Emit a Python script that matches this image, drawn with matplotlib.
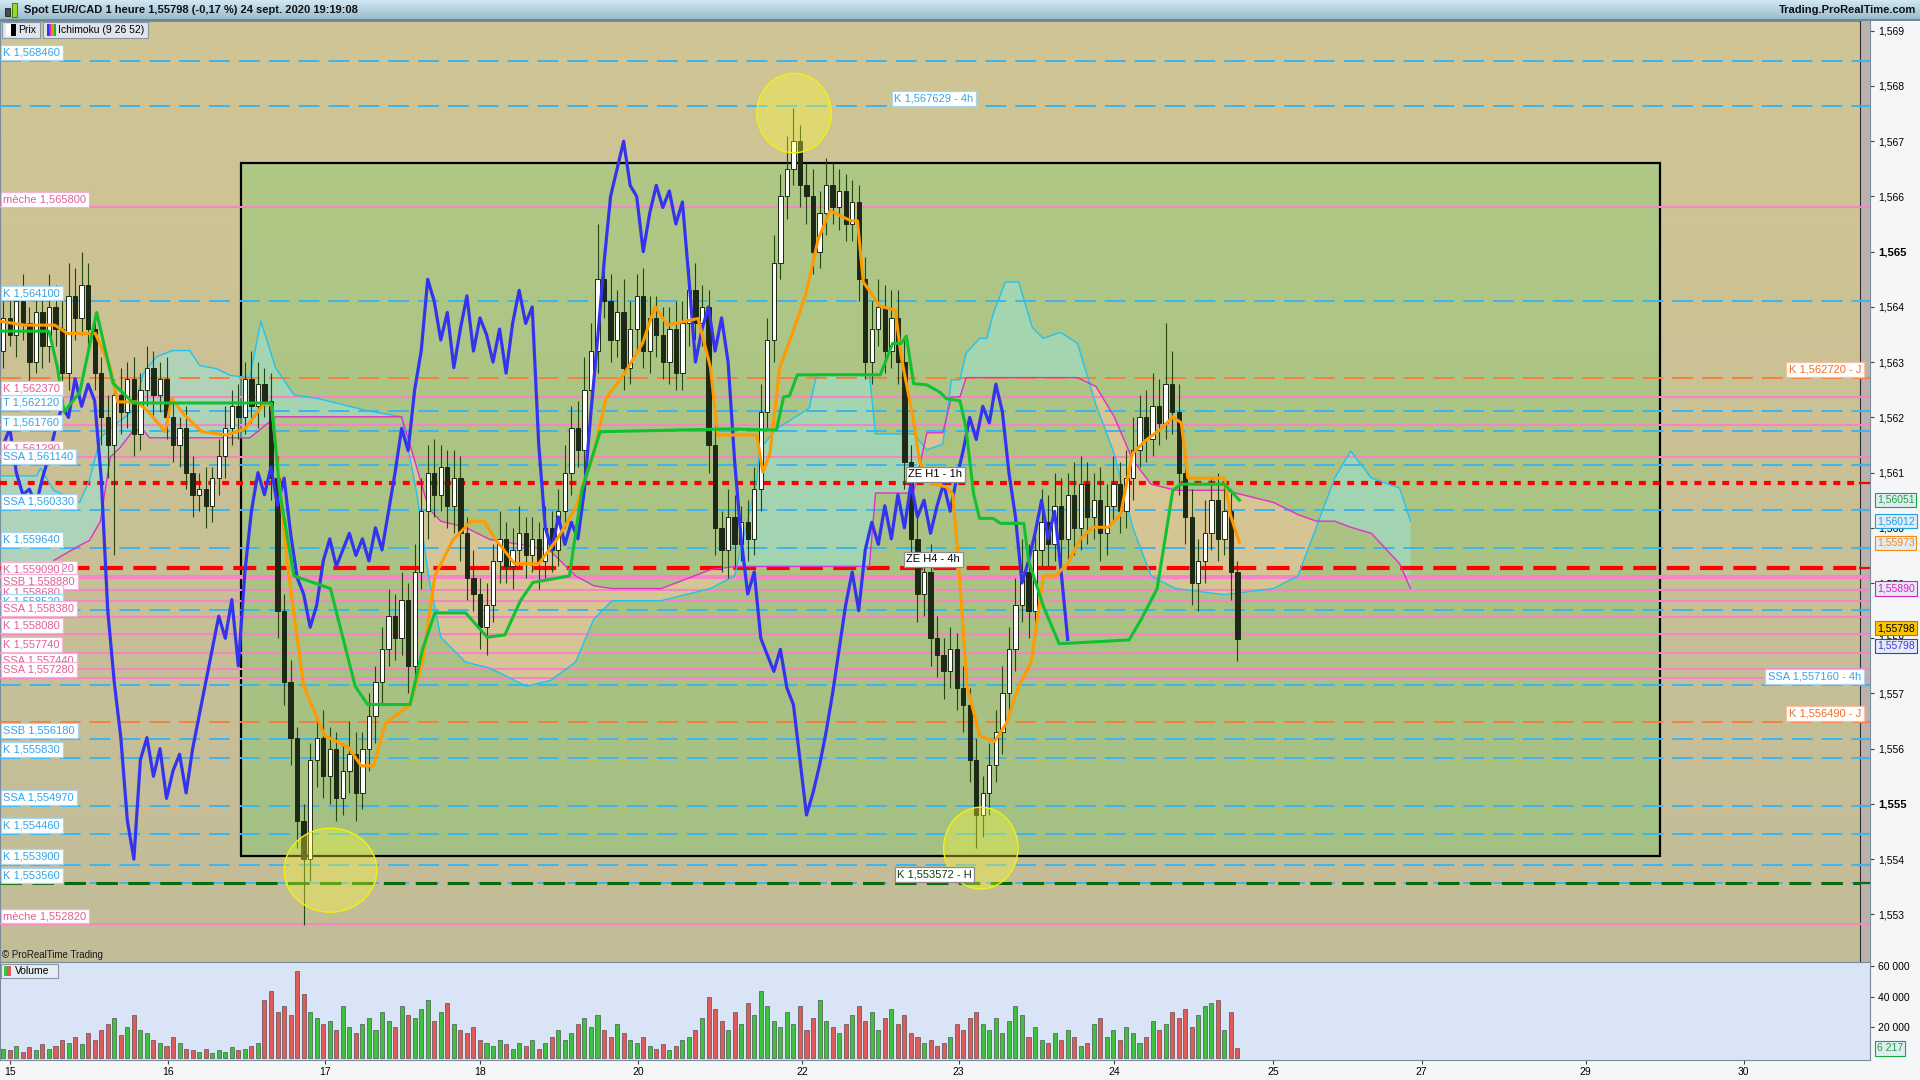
import matplotlib
matplotlib.use('Agg')
import matplotlib.pyplot as plt
import matplotlib.transforms as mtransforms
from matplotlib.patches import Rectangle, Ellipse
from matplotlib.colors import LinearSegmentedColormap
import numpy as np

plt.rcParams['font.family'] = ['Liberation Sans', 'DejaVu Sans']
plt.rcParams['lines.scale_dashes'] = False

# ---------------- data ----------------
open0 = 1.5632
close = [
    1.5638, 1.5635, 1.5641, 1.5637, 1.5630, 1.5639, 1.5633, 1.5640, 1.5636, 1.5628,
    1.5642, 1.5638, 1.5644, 1.5636, 1.5628, 1.5620, 1.5615, 1.5624, 1.5621, 1.5627,
    1.5617, 1.5625, 1.5629, 1.5624, 1.5627, 1.5620, 1.5615, 1.5618, 1.5610, 1.5606,
    1.5607, 1.5604, 1.5609, 1.5613, 1.5618, 1.5622, 1.5620, 1.5627, 1.5622, 1.5626,
    1.5623, 1.5609, 1.5585, 1.5572, 1.5562, 1.5547, 1.5540, 1.5558, 1.5562, 1.5555,
    1.5560, 1.5551, 1.5556, 1.5559, 1.5552, 1.5560, 1.5566, 1.5572, 1.5578, 1.5584,
    1.5580, 1.5587, 1.5575, 1.5592, 1.5603, 1.5610, 1.5606, 1.5611, 1.5604, 1.5609,
    1.5599, 1.5591, 1.5588, 1.5582, 1.5586, 1.5594, 1.5598, 1.5593, 1.5596, 1.5599,
    1.5595, 1.5598, 1.5594, 1.5600, 1.5596, 1.5603, 1.5610, 1.5618, 1.5614, 1.5625,
    1.5632, 1.5645, 1.5641, 1.5634, 1.5639, 1.5629, 1.5636, 1.5642, 1.5632, 1.5638,
    1.5635, 1.5630, 1.5636, 1.5628, 1.5637, 1.5643, 1.5637, 1.5640, 1.5615, 1.5600,
    1.5596, 1.5602, 1.5597, 1.5601, 1.5598, 1.5607, 1.5621, 1.5634, 1.5648, 1.5660,
    1.5665, 1.5670, 1.5662, 1.5660, 1.5650, 1.5657, 1.5662, 1.5658, 1.5661, 1.5655,
    1.5659, 1.5645, 1.5630, 1.5636, 1.5640, 1.5632, 1.5638, 1.5630, 1.5612, 1.5598,
    1.5588, 1.5592, 1.5580, 1.5577, 1.5574, 1.5578, 1.5571, 1.5568, 1.5558, 1.5548,
    1.5552, 1.5557, 1.5563, 1.5570, 1.5578, 1.5586, 1.5592, 1.5585, 1.5596, 1.5601,
    1.5597, 1.5604, 1.5598, 1.5606, 1.5600, 1.5608, 1.5602, 1.5605, 1.5599, 1.5604,
    1.5608, 1.5603, 1.5609, 1.5614, 1.5620, 1.5616, 1.5622, 1.5619, 1.5626, 1.5621,
    1.5610, 1.5602, 1.5590, 1.5594, 1.5599, 1.5605, 1.5598, 1.5603, 1.5592, 1.55798,
]
# wick lengths above / below the body, in pips
wick_up = [
    3, 4, 2, 5, 3, 4, 3, 6, 4, 5,   6, 5, 6, 4, 3, 3, 4, 3, 5, 3,
    4, 3, 4, 3, 3, 4, 3, 2, 4, 3,   3, 4, 2, 3, 4, 3, 4, 3, 5, 4,
    3, 5, 4, 3, 4, 2, 3, 3, 4, 5,   4, 3, 5, 6, 4, 3, 4, 3, 4, 5,
    4, 5, 3, 5, 6, 5, 6, 4, 3, 5,   4, 3, 5, 3, 4, 3, 5, 3, 4, 5,
    3, 4, 3, 4, 3, 4, 5, 4, 5, 6,   5, 10, 4, 5, 4, 6, 5, 4, 5, 4,
    4, 5, 4, 5, 4, 4, 5, 4, 3, 4,   3, 5, 4, 3, 4, 4, 5, 4, 5, 4,
    6, 6, 3, 4, 5, 4, 5, 4, 4, 3,   4, 3, 4, 5, 5, 4, 5, 5, 4, 3,
    4, 3, 5, 4, 3, 4, 3, 4, 3, 4,   3, 4, 4, 5, 4, 5, 6, 5, 4, 6,
    5, 6, 5, 4, 6, 5, 4, 5, 6, 4,   5, 4, 5, 6, 4, 5, 6, 5, 11, 6,
    5, 4, 5, 4, 6, 4, 5, 5, 4, 2,
]
wick_dn = [
    3, 2, 4, 3, 5, 2, 4, 3, 3, 4,   3, 4, 3, 4, 3, 5, 6, 20, 4, 3,
    4, 3, 3, 4, 3, 4, 3, 4, 3, 4,   3, 4, 3, 3, 4, 3, 4, 3, 3, 4,
    3, 4, 5, 4, 5, 5, 12, 4, 5, 4,  5, 4, 3, 4, 5, 3, 4, 5, 4, 3,
    4, 3, 5, 4, 3, 5, 4, 3, 4, 5,   5, 4, 3, 4, 5, 3, 4, 3, 4, 3,
    4, 3, 5, 3, 4, 3, 3, 4, 3, 4,   3, 4, 3, 4, 3, 4, 3, 4, 3, 4,
    4, 3, 4, 3, 3, 4, 3, 4, 5, 5,   4, 5, 4, 3, 4, 3, 4, 3, 4, 3,
    4, 3, 4, 5, 4, 3, 4, 3, 4, 3,   3, 4, 3, 4, 3, 4, 3, 4, 5, 4,
    5, 4, 5, 4, 5, 3, 4, 5, 4, 6,   4, 4, 3, 4, 3, 4, 3, 5, 4, 3,
    4, 3, 5, 4, 5, 4, 5, 4, 5, 4,   3, 4, 3, 4, 3, 4, 3, 4, 3, 4,
    4, 5, 4, 5, 4, 3, 4, 3, 5, 4,
]
# volume in thousands
volume_k = [
    6, 5, 8, 4, 7, 5, 9, 6, 8, 12,      10, 14, 9, 16, 12, 18, 22, 26, 15, 20,
    28, 18, 16, 12, 10, 8, 14, 10, 6, 5, 4, 6, 3, 5, 4, 7, 5, 6, 8, 10,
    38, 44, 30, 34, 28, 57, 42, 30, 26, 22,  24, 18, 34, 20, 16, 22, 26, 18, 30, 24,
    20, 34, 28, 26, 32, 38, 24, 30, 36, 22,  18, 16, 20, 12, 10, 8, 12, 9, 6, 10,
    8, 12, 6, 10, 14, 18, 12, 16, 22, 26,    20, 28, 18, 14, 22, 16, 12, 10, 14, 8,
    6, 9, 5, 8, 12, 14, 18, 26, 40, 32,      24, 18, 30, 22, 36, 28, 44, 34, 24, 20,
    30, 22, 34, 18, 26, 38, 24, 20, 16, 22,  28, 34, 24, 30, 18, 26, 32, 22, 28, 16,
    14, 10, 12, 8, 10, 14, 22, 18, 26, 30,   22, 18, 26, 16, 24, 34, 28, 14, 20, 12,
    10, 16, 12, 18, 14, 8, 10, 22, 26, 14,   18, 12, 20, 16, 10, 14, 24, 18, 22, 30,
    26, 32, 20, 28, 34, 36, 38, 18, 30, 6.217,
]

tenkan_x = [0, 3.75, 8.4, 10.3, 14.6, 16.9, 18.0, 21.0, 22.9, 25.3, 26.3, 28.1, 30.9, 34.7, 37.5,
            40.3, 41.6, 44.0, 46.5, 49.7, 53.4, 55.3, 57.2, 59.0, 62.8, 64.7, 66.6, 69.4, 72.2, 74.1,
            75.9, 78.8, 82.5, 85.3, 88.1, 90.9, 92.8, 95.6, 98.4, 100.3, 102.2, 106.9, 108.8, 109.9,
            115.9, 116.8, 117.9, 119.4, 121.5, 123.4, 125.3, 127.1, 130.3, 131.3, 132.2, 134.8, 137.1,
            138.0, 139.9, 140.8, 142.5, 144.9, 145.9, 146.6, 148.1, 150.0, 152.3, 154.1, 156.0, 157.9,
            159.8, 161.6, 163.5, 165.4, 167.3, 169.7, 171.6, 173.4, 175.3, 177.8, 179.6, 180.9, 181.9,
            187.5, 188.4, 189.8]
tenkan_y = [1.56374, 1.56367, 1.56367, 1.56352, 1.56352, 1.56290, 1.56228, 1.56228, 1.56208, 1.56174,
            1.56234, 1.56206, 1.56174, 1.56168, 1.56179, 1.56223, 1.56223, 1.55935, 1.55713, 1.55624,
            1.55602, 1.55569, 1.55569, 1.55646, 1.55680, 1.55757, 1.55913, 1.55979, 1.56012, 1.56012,
            1.55979, 1.55935, 1.55935, 1.55979, 1.56035, 1.56134, 1.56234, 1.56279, 1.56334, 1.56401,
            1.56367, 1.56379, 1.56290, 1.56168, 1.56168, 1.56101, 1.56134, 1.56290, 1.56357, 1.56423,
            1.56523, 1.56574, 1.56556, 1.56556, 1.56445, 1.56401, 1.56394, 1.56310, 1.56194, 1.56121,
            1.56081, 1.56074, 1.56061, 1.55964, 1.55713, 1.55624, 1.55613, 1.55646, 1.55713, 1.55757,
            1.55913, 1.55913, 1.55935, 1.55979, 1.56001, 1.56001, 1.56024, 1.56134, 1.56157, 1.56179,
            1.56201, 1.56190, 1.56090, 1.56090, 1.56024, 1.55973]

kijun_x = [0, 7.5, 8.8, 9.8, 12.2, 14.8, 17.3, 20.4, 41.6, 42.8, 45.0, 50.6, 54.4, 56.3, 62.8,
           64.7, 66.6, 71.3, 74.6, 77.3, 79.7, 81.6, 87.2, 89.1, 91.9, 111.6, 118.9, 120.0, 120.9,
           122.1, 134.8, 136.7, 138.0, 138.8, 139.9, 141.9, 144.0, 144.9, 147.0, 147.9, 149.1, 150.0,
           152.1, 153.2, 156.8, 157.5, 159.8, 162.2, 172.9, 174.8, 177.2, 179.6, 180.9, 187.5, 189.8]
kijun_y = [1.56356, 1.56356, 1.56290, 1.56210, 1.56245, 1.56390, 1.56262, 1.56226, 1.56226, 1.56068,
           1.55913, 1.55890, 1.55713, 1.55680, 1.55680, 1.55780, 1.55846, 1.55846, 1.55802, 1.55806,
           1.55868, 1.55901, 1.55913, 1.56068, 1.56174, 1.56179, 1.56177, 1.56237, 1.56239, 1.56277,
           1.56277, 1.56334, 1.56334, 1.56347, 1.56261, 1.56259, 1.56245, 1.56234, 1.56230, 1.56183,
           1.56061, 1.56017, 1.56017, 1.56008, 1.56008, 1.55941, 1.55857, 1.55790, 1.55797, 1.55835,
           1.55890, 1.56068, 1.56079, 1.56079, 1.56050]

cloud_x = [0, 5.63, 6.19, 8.25, 12.19, 13.69, 15.38, 16.88, 18.38, 20.44, 21.94, 22.88, 24.0, 26.44,
           29.06, 30.56, 33.19, 35.25, 38.25, 39.94, 42.19, 45.0, 48.75, 56.25, 61.5, 63.75, 65.63,
           67.5, 71.25, 75.0, 80.63, 84.38, 88.13, 90.94, 93.75, 101.25, 108.76, 112.5, 115.88,
           116.26, 118.88, 120.94, 123.94, 125.07, 133.13, 134.07, 139.88, 141.95, 144.38, 145.7,
           147.0, 147.94, 150.0, 151.13, 152.07, 153.94, 156.0, 158.07, 159.76, 162.38, 165.0,
           167.82, 170.63, 173.45, 176.26, 180.0, 187.5, 195.0, 198.76, 201.57, 204.39, 206.83,
           210.0, 214.33, 216.0]
ssa = [1.56094, 1.56094, 1.56108, 1.56068, 1.56046, 1.56086, 1.56163, 1.56179, 1.56194, 1.56212,
       1.56279, 1.56294, 1.56310, 1.56321, 1.56321, 1.56294, 1.56288, 1.56276, 1.56272, 1.56374,
       1.56290, 1.56241, 1.56234, 1.56212, 1.56201, 1.56068, 1.55913, 1.55802, 1.55757, 1.55746,
       1.55713, 1.55724, 1.55757, 1.55835, 1.55868, 1.55868, 1.55890, 1.55913, 1.56086, 1.56141,
       1.56179, 1.56194, 1.56217, 1.56279, 1.56279, 1.56170, 1.56170, 1.56141, 1.56152, 1.56268,
       1.56268, 1.56316, 1.56343, 1.56343, 1.56387, 1.56445, 1.56445, 1.56363, 1.56343, 1.56354,
       1.56334, 1.56223, 1.56134, 1.56001, 1.55913, 1.55890, 1.55879, 1.55890, 1.55913, 1.56001,
       1.56090, 1.56139, 1.56090, 1.56072, 1.56012]
ssb = [1.55857, 1.55890, 1.55901, 1.55941, 1.55968, 1.55977, 1.56012, 1.56128, 1.56145, 1.56177,
       1.56177, 1.56163, 1.56163, 1.56163, 1.56163, 1.56163, 1.56163, 1.56163, 1.56163, 1.56179,
       1.56201, 1.56201, 1.56201, 1.56201, 1.56201, 1.56112, 1.56035, 1.56012, 1.56001, 1.55979,
       1.55968, 1.55957, 1.55913, 1.55895, 1.55890, 1.55890, 1.55924, 1.55930, 1.55930, 1.55930,
       1.55930, 1.55930, 1.55930, 1.55930, 1.55930, 1.56063, 1.56063, 1.56172, 1.56172, 1.56237,
       1.56237, 1.56272, 1.56272, 1.56272, 1.56272, 1.56272, 1.56272, 1.56272, 1.56272, 1.56272,
       1.56272, 1.56256, 1.56201, 1.56123, 1.56079, 1.56068, 1.56068, 1.56046, 1.56024, 1.56012,
       1.56012, 1.56001, 1.55990, 1.55935, 1.55890]

level_price = [1.568460, 1.567629, 1.565800, 1.564100, 1.562720, 1.562370, 1.562120, 1.561870,
               1.561760, 1.561290, 1.561140, 1.560820, 1.560330, 1.559640, 1.559280, 1.559120,
               1.559090, 1.558880, 1.558680, 1.558520, 1.558380, 1.558080, 1.557740, 1.557440,
               1.557280, 1.557160, 1.556490, 1.556180, 1.555830, 1.554970, 1.554460, 1.553900,
               1.553560, 1.553572, 1.552820]
level_kind = ['blue', 'blue', 'pink', 'blue', 'orange', 'pink', 'blue', 'pink', 'blue', 'pink',
              'blue', 'red_dot', 'blue', 'blue', 'red_dash', 'pink', 'pink', 'pink', 'pink', 'blue',
              'pink', 'pink', 'pink', 'pink', 'pink', 'blue', 'orange', 'blue', 'blue', 'blue',
              'blue', 'blue', 'blue', 'green', 'pink']
level_text = ['K 1,568460', 'K 1,567629 - 4h', 'mèche 1,565800', 'K 1,564100', 'K 1,562720 - J',
              'K 1,562370', 'T 1,562120', '', 'T 1,561760', 'K 1,561290', 'SSA 1,561140',
              'ZE H1 - 1h', 'SSA 1,560330', 'K 1,559640', 'ZE H4 - 4h', 'SSA 1,559120',
              'K 1,559090', 'SSB 1,558880', 'K 1,558680', 'K 1,558520', 'SSA 1,558380',
              'K 1,558080', 'K 1,557740', 'SSA 1,557440', 'SSA 1,557280', 'SSA 1,557160 - 4h',
              'K 1,556490 - J', 'SSB 1,556180', 'K 1,555830', 'SSA 1,554970', 'K 1,554460',
              'K 1,553900', 'K 1,553560', 'K 1,553572 - H', 'mèche 1,552820']
level_anchor = ['L', 136.9, 'L', 'L', 'R', 'L', 'L', '', 'L', 'L', 'L', 139.1, 'L', 'L', 138.8,
                'L', 'L', 'L', 'L', 'L', 'L', 'L', 'L', 'L', 'L', 'R', 'R', 'L', 'L', 'L', 'L',
                'L', 'L', 137.4, 'L']

zone_x = [36.96, 254.2]
zone_y = [1.55406, 1.56660]

circle_x = [121.6, 50.6, 150.2]
circle_y = [1.56751, 1.55380, 1.55420]
circle_rx = [5.7, 7.1, 5.7]
circle_ry = [0.00072, 0.00076, 0.00074]

price_ticks = [1.553, 1.554, 1.555, 1.556, 1.557, 1.558, 1.559, 1.560, 1.561,
               1.562, 1.563, 1.564, 1.565, 1.566, 1.567, 1.568, 1.569]
day_labels = ['15', '16', '17', '18', '20', '22', '23', '24', '25', '27', '29', '30']
day_pos = [1.5, 25.7, 49.7, 73.5, 97.7, 122.8, 146.8, 170.6, 195.0, 217.7, 242.8, 267.0]

axis_val = [1.56051, 1.56012, 1.55973, 1.55890, 1.55798, 1.55798]
axis_txt = ['1,56051', '1,56012', '1,55973', '1,55890', '1,55798', '1,55798']
axis_fg = ['#17a83c', '#1aa4e4', '#f08a12', '#de1ec0', '#000000', '#3a3ae0']
axis_bg = ['#e4ebf4', '#e4ebf4', '#e4ebf4', '#e4ebf4', '#ffc400', '#e4ebf4']
axis_dy = [0, 0, 0, 0, 8, -4.5]

# ---------------- layout helpers ----------------
W, H = 1568.0, 882.0
XMAX = 1527 / 5.333
YMIN, YMAX = 1.55213, 1.56918


def fbox(x0, y0, x1, y1):
    return [x0 / W, 1 - y1 / H, (x1 - x0) / W, (y1 - y0) / H]


fig = plt.figure(figsize=(19.2, 10.8), dpi=100)
fig.patch.set_facecolor('#f4f6f8')


def fig_rect(x0, y0, x1, y1, **kw):
    fig.add_artist(Rectangle((x0 / W, 1 - y1 / H), (x1 - x0) / W, (y1 - y0) / H,
                             transform=fig.transFigure, **kw))


ax = fig.add_axes(fbox(0, 17, 1527, 786))
axv = fig.add_axes(fbox(0, 786, 1527, 866))
axt = fig.add_axes(fbox(0, 0, 1568, 17))

# ---------------- title bar ----------------
axt.imshow(np.linspace(0, 1, 64).reshape(-1, 1), aspect='auto', extent=[0, 1, 0, 1],
           cmap=LinearSegmentedColormap.from_list('tb', ['#d2e8f3', '#96b7c8']), origin='upper')
axt.set_xlim(0, 1)
axt.set_ylim(0, 1)
axt.set_axis_off()
axt.axhline(0.02, color='#6f8799', lw=1.5)
axt.add_patch(Rectangle((4 / W, 0.22), 4 / W, 0.4, fc='#4a4a4a', ec='#202020', lw=0.6))
axt.add_patch(Rectangle((10 / W, 0.18), 4 / W, 0.66, fc='#8fdc2a', ec='#3d6a10', lw=0.6))
axt.text(20 / W, 0.5, 'Spot EUR/CAD 1 heure 1,55798 (-0,17 %) 24 sept. 2020 19:19:08',
         va='center', ha='left', fontsize=8, fontweight='bold', color='#111111')
axt.text(0.998, 0.5, 'Trading.ProRealTime.com', va='center', ha='right', fontsize=8,
         fontweight='bold', color='#111111')

# ---------------- main price panel ----------------
ax.imshow(np.linspace(0, 1, 128).reshape(-1, 1), aspect='auto',
          extent=[0, XMAX, YMIN, YMAX], origin='upper', zorder=0,
          cmap=LinearSegmentedColormap.from_list('bg', ['#d0c593', '#c2bc98']))
ax.imshow(np.linspace(0, 1, 128).reshape(-1, 1), aspect='auto',
          extent=[zone_x[0], zone_x[1], zone_y[0], zone_y[1]], origin='upper', zorder=1,
          cmap=LinearSegmentedColormap.from_list('zn', ['#b0c886', '#a5c083']))
ax.add_patch(Rectangle((zone_x[0], zone_y[0]), zone_x[1] - zone_x[0], zone_y[1] - zone_y[0],
                       fill=False, ec='black', lw=1.6, zorder=1.5))

# ichimoku cloud
cx = np.array(cloud_x)
sa = np.array(ssa)
sb = np.array(ssb)
ax.fill_between(cx, sa, sb, where=sa >= sb, interpolate=True, color='#9fe0d0', alpha=0.6,
                lw=0, zorder=2)
ax.fill_between(cx, sa, sb, where=sa < sb, interpolate=True, color='#f5c8a0', alpha=0.6,
                lw=0, zorder=2)
ax.plot(cx, sa, color='#22c2ee', lw=1.0, zorder=4)
ax.plot(cx, sb, color='#e030c8', lw=1.0, zorder=4)

# horizontal levels
line_style = {
    'blue': dict(color='#3db5ee', lw=1.4, dashes=(15, 6.5)),
    'orange': dict(color='#f5803e', lw=1.4, dashes=(15, 6.5)),
    'pink': dict(color='#f585c4', lw=1.5),
    'red_dot': dict(color='#ff0000', lw=3.0, dashes=(5, 5)),
    'red_dash': dict(color='#ff0000', lw=3.0, dashes=(16.5, 7.5)),
    'green': dict(color='#0b6a0b', lw=2.2, dashes=(15.5, 7.5)),
}
label_style = {
    'blue': ('#36a4e4', '#a6d6f2'),
    'orange': ('#ee6e26', '#f6c0a0'),
    'pink': ('#e0609a', '#f2b4d2'),
    'red_dot': ('#000000', '#8c8c8c'),
    'red_dash': ('#000000', '#8c8c8c'),
    'green': ('#143a14', '#8c8c8c'),
}
STRIP = 0.9948
for p, k in zip(level_price, level_kind):
    ax.axhline(p, xmax=STRIP, zorder=3.5, **line_style[k])
    ax.axhline(p, xmin=STRIP, xmax=1, color=line_style[k]['color'], lw=1.6, zorder=12)

# candles
close_a = np.array(close)
opens = np.concatenate([[open0], close_a[:-1]])
highs = np.maximum(opens, close_a) + np.array(wick_up) * 1e-4
lows = np.minimum(opens, close_a) - np.array(wick_dn) * 1e-4
xb = np.arange(len(close_a)) + 0.5
up = close_a >= opens
body_lo = np.minimum(opens, close_a)
body_h = np.maximum(np.abs(close_a - opens), 0.00002)

ax.vlines(xb, lows, highs, color='#24460f', lw=0.8, zorder=5)
ax.bar(xb[up], body_h[up], bottom=body_lo[up], width=0.66, color='#ffffff',
       edgecolor='#1c2a12', lw=0.7, zorder=6)
ax.bar(xb[~up], body_h[~up], bottom=body_lo[~up], width=0.66, color='#1e2818',
       edgecolor='#1c2a12', lw=0.7, zorder=6)

# chikou (close shifted 26 bars back), tenkan, kijun
ax.plot(xb[26:] - 26, close_a[26:], color='#3434ee', lw=2.3, zorder=7)
ax.plot(tenkan_x, tenkan_y, color='#ff9a00', lw=2.2, zorder=8)
ax.plot(kijun_x, kijun_y, color='#12c032', lw=2.2, zorder=8)

# highlight circles
for cxx, cyy, rx, ry in zip(circle_x, circle_y, circle_rx, circle_ry):
    ax.add_patch(Ellipse((cxx, cyy), 2 * rx, 2 * ry, fc=(1, 1, 0.2, 0.35), ec='#f2f010',
                         lw=1.0, zorder=9))

# level labels
blend = mtransforms.blended_transform_factory(ax.transAxes, ax.transData)
for p, k, t, a in zip(level_price, level_kind, level_text, level_anchor):
    if not t:
        continue
    fg, ec = label_style[k]
    if a == 'L':
        xy, trans, dx, ha = (0, p), blend, 2.5, 'left'
    elif a == 'R':
        xy, trans, dx, ha = (0.9965, p), blend, -1.5, 'right'
    else:
        xy, trans, dx, ha = (a, p), ax.transData, 0, 'left'
    ax.annotate(t, xy=xy, xycoords=trans, xytext=(dx, 2.4), textcoords='offset points',
                ha=ha, va='bottom', fontsize=8, color=fg, zorder=13, annotation_clip=False,
                bbox=dict(boxstyle='square,pad=0.22', fc='white', ec=ec, lw=0.9))

# right margin strip
ax.add_patch(Rectangle((STRIP, 0), 1 - STRIP, 1, transform=ax.transAxes, fc='#bbb1ad',
                       ec='none', zorder=11))
ax.axvline(XMAX * STRIP, color='#303030', lw=0.8, zorder=11.5)

ax.text(0.001, 0.003, '© ProRealTime Trading', transform=ax.transAxes, fontsize=7,
        va='bottom', ha='left', color='#1a1a1a', zorder=14)

ax.set_xlim(0, XMAX)
ax.set_ylim(YMIN, YMAX)
ax.set_xticks([])
ax.yaxis.tick_right()
ax.set_yticks(price_ticks)
ax.set_yticklabels(['{:.3f}'.format(v).replace('.', ',') for v in price_ticks])
ax.tick_params(axis='y', labelsize=7.5, length=3, pad=3, color='#404040')
for lbl in ax.get_yticklabels():
    if lbl.get_text() in ('1,565', '1,555'):
        lbl.set_fontweight('bold')
        lbl.set_fontsize(8.2)
for s in ax.spines.values():
    s.set_color('#7a8c9a')

# value boxes on the price axis
for v, t, fg, bg, dy in zip(axis_val, axis_txt, axis_fg, axis_bg, axis_dy):
    ax.annotate(t, xy=(1, v), xycoords=blend, xytext=(5, dy), textcoords='offset points',
                ha='left', va='center', fontsize=7.5, color=fg, zorder=15, annotation_clip=False,
                bbox=dict(boxstyle='square,pad=0.2', fc=bg, ec=fg if bg != '#ffc400' else '#b08000',
                          lw=0.8))

# legend boxes under the title
fig_rect(2, 18, 33, 31, fc='#dfe5ea', ec='#8797a5', lw=0.8, zorder=20)
fig_rect(5, 20, 9, 29, fc='white', ec='none', zorder=21)
fig_rect(9, 20, 13, 29, fc='black', ec='none', zorder=21)
fig.text(15 / W, 1 - 24.5 / H, 'Prix', fontsize=7.5, va='center', ha='left', zorder=22)
fig_rect(35, 18, 121, 31, fc='#dfe5ea', ec='#8797a5', lw=0.8, zorder=20)
for i, c in enumerate(['#3030f0', '#e020c0', '#f09000', '#20b040']):
    fig_rect(38 + 2 * i, 20, 40 + 2 * i, 29, fc=c, ec='none', zorder=21)
fig.text(47 / W, 1 - 24.5 / H, 'Ichimoku (9 26 52)', fontsize=7.5, va='center', ha='left',
         zorder=22)

# ---------------- volume panel ----------------
vol = np.array(volume_k) * 1000
vcol = np.where(up, '#3ec23e', '#e05a5a')
axv.set_facecolor('#dae4f7')
axv.bar(xb, vol, width=0.62, color=vcol, edgecolor='#3a3a3a', lw=0.4, zorder=3)
axv.set_xlim(0, XMAX)
axv.set_ylim(-1600, 62400)
axv.yaxis.tick_right()
axv.set_yticks([20000, 40000, 60000])
axv.set_yticklabels(['20 000', '40 000', '60 000'])
axv.tick_params(axis='y', labelsize=7.5, length=3, pad=3, color='#404040')
axv.set_xticks(day_pos)
axv.set_xticklabels(day_labels)
axv.tick_params(axis='x', labelsize=7.5, length=3, pad=1.5, color='#404040')
for s in axv.spines.values():
    s.set_color('#7a8c9a')
axv.annotate('6 217', xy=(1, vol[-1]), xycoords=mtransforms.blended_transform_factory(
    axv.transAxes, axv.transData), xytext=(5, 0), textcoords='offset points', ha='left',
    va='center', fontsize=7.5, color='#17a83c', zorder=15, annotation_clip=False,
    bbox=dict(boxstyle='square,pad=0.2', fc='#e4ebf4', ec='#17a83c', lw=0.8))

fig_rect(1, 787, 47, 799, fc='#e6ecf4', ec='#8797a5', lw=0.8, zorder=20)
fig_rect(3, 789, 6, 797, fc='#3ec23e', ec='none', zorder=21)
fig_rect(6, 789, 9, 797, fc='#e05a5a', ec='none', zorder=21)
fig.text(12 / W, 1 - 793 / H, 'Volume', fontsize=7.5, va='center', ha='left', zorder=22)

fig.savefig('out.png', dpi=100, facecolor=fig.get_facecolor())
